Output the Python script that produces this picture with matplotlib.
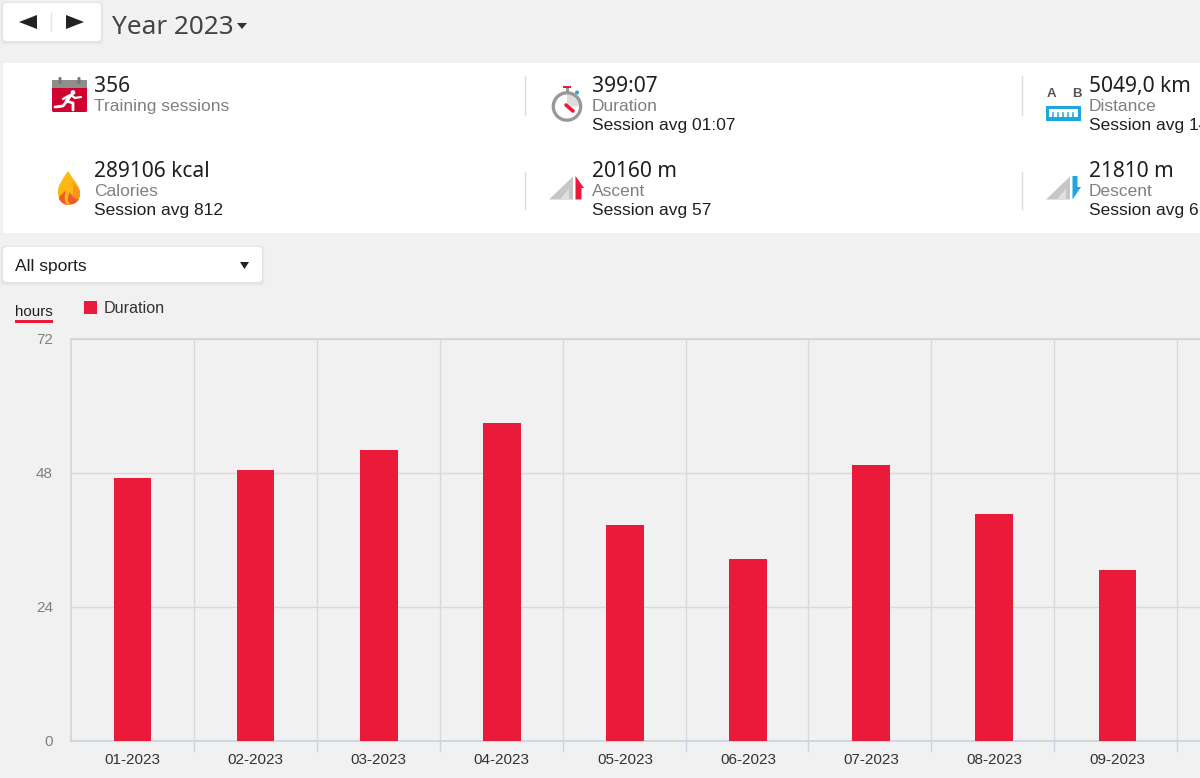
from matplotlib import pyplot as plt
from matplotlib.patches import FancyBboxPatch, Rectangle, Polygon, Circle, Wedge, PathPatch
from matplotlib.path import Path

# Monthly training hours
months = ["01-2023", "02-2023", "03-2023", "04-2023", "05-2023",
          "06-2023", "07-2023", "08-2023", "09-2023"]
hours = [47.1, 48.6, 52.1, 57.0, 38.7, 32.6, 49.4, 40.7, 30.6]
y_ticks = [0, 24, 48, 72]

# Summary panel: value, name, session average, x, y
summary_values = ["356", "399:07", "5049,0 km", "289106 kcal", "20160 m", "21810 m"]
summary_names = ["Training sessions", "Duration", "Distance", "Calories", "Ascent", "Descent"]
summary_avgs = ["", "Session avg 01:07", "Session avg 14", "Session avg 812", "Session avg 57", "Session avg 61"]
summary_x = [94, 592, 1089, 94, 592, 1089]
summary_y = [86, 86, 86, 171, 171, 171]

BG = "#f1f1f1"
RED = "#ea1a3a"
GREY_TEXT = "#808080"
DARK = "#1f1f1f"
BLUE = "#1ea7dc"
SANS = "Liberation Sans"
NUM = "Noto Sans"

fig = plt.figure(figsize=(12, 7.78), dpi=100, facecolor=BG)

# Page furniture is laid out in pixels on a full-figure axes
ui = fig.add_axes([0, 0, 1, 1], zorder=0)
ui.set_xlim(0, 1200)
ui.set_ylim(778, 0)
ui.axis("off")


def card(x, y, w, h):
    for grow, alpha in ((3, 0.012), (2, 0.018), (1, 0.025)):
        ui.add_patch(FancyBboxPatch((x - grow, y - grow + 1), w + 2 * grow, h + 2 * grow,
                                    boxstyle="round,pad=0,rounding_size=4",
                                    fc="black", ec="none", alpha=alpha))
    ui.add_patch(FancyBboxPatch((x, y), w, h, boxstyle="round,pad=0,rounding_size=4",
                                fc="white", ec="none"))


# Previous / next buttons
card(3, 3, 98, 38)
ui.add_patch(Polygon([[19, 22], [37, 15], [37, 29]], fc="#222222", ec="none"))
ui.add_patch(Polygon([[84, 22], [66, 15], [66, 29]], fc="#222222", ec="none"))
ui.plot([50.5, 50.5], [13, 31], color="#e4e4e4", lw=1)

ui.text(112, 27, "Year 2023", fontsize=18.8, family=NUM, color="#444444", va="center")
ui.add_patch(Polygon([[237, 23], [247, 23], [242, 29]], fc="#333333", ec="none"))

# Summary panel
ui.add_patch(Rectangle((3, 63), 1197, 170, fc="white", ec="none"))
for x in (524.5, 1021.5):
    ui.plot([x, x], [76, 115], color="#dddddd", lw=1)
    ui.plot([x, x], [172, 209], color="#dddddd", lw=1)

for i in range(6):
    x, y = summary_x[i], summary_y[i]
    ui.text(x, y, summary_values[i], fontsize=15.1, family=NUM, color=DARK, va="center")
    ui.text(x, y + 20, summary_names[i], fontsize=12.5, family=SANS, color=GREY_TEXT, va="center")
    if summary_avgs[i]:
        ui.text(x, y + 39, summary_avgs[i], fontsize=12.5, family=SANS, color=DARK, va="center")

# Calendar icon with runner
ui.add_patch(FancyBboxPatch((52, 80), 35, 32, boxstyle="round,pad=0,rounding_size=1.5", fc="#d0002f", ec="none"))
ui.add_patch(Rectangle((52, 80), 35, 8, fc="#8e8e8e", ec="none"))
for x in (60, 79):
    ui.add_patch(FancyBboxPatch((x - 1.5, 77), 3, 7, boxstyle="round,pad=0,rounding_size=1.2", fc="#777777", ec="none"))
ui.add_patch(Circle((73, 92.5), 2.4, fc="white", ec="none"))
ui.plot([55, 63, 67, 71, 66, 73, 73], [107, 106, 101, 95, 101, 103, 110], color="white", lw=2, solid_capstyle="round")
ui.plot([63, 68, 71, 75, 81], [99, 96, 95, 98, 97], color="white", lw=1.6, solid_capstyle="round")


def flame(points, colour):
    codes = [Path.MOVETO] + [Path.CURVE4] * (len(points) - 1)
    ui.add_patch(PathPatch(Path(points, codes), fc=colour, ec="none"))


# Calories flame
flame([(68, 171), (62, 180), (57, 186), (58, 194), (59, 201), (64, 205), (68, 205),
       (75, 205), (81, 200), (80, 192), (79, 184), (72, 178), (68, 171)], "#fdb813")
flame([(72, 181), (76, 186), (81, 189), (80, 195), (79, 201), (74, 205), (68, 205),
       (72, 200), (75, 190), (72, 181)], "#f7941d")
flame([(66, 190), (63, 194), (59, 195), (59, 199), (61, 203), (65, 205), (68, 205),
       (64, 203), (64, 197), (66, 190)], "#f15a24")
flame([(70, 192), (68, 196), (67, 199), (69, 203), (72, 205), (76, 204), (79, 199),
       (76, 200), (72, 197), (70, 192)], "#f15a24")

# Stopwatch
ui.add_patch(Rectangle((563, 85.5), 8, 2.5, fc=RED, ec="none"))
ui.add_patch(Rectangle((565.5, 88), 3, 4, fc="#999999", ec="none"))
ui.add_patch(Circle((577, 92.5), 2, fc=BLUE, ec="none"))
ui.add_patch(Wedge((567, 106.5), 13, -90, 0, fc="#dddddd", ec="none"))
ui.add_patch(Circle((567, 106.5), 13.7, fc="none", ec="#999999", lw=2.4))
ui.plot([566, 573], [105, 111], color=RED, lw=2.6, solid_capstyle="round")

# Distance ruler
ui.text(1051, 94, "A", fontsize=9.5, family=SANS, weight="bold", color="#555555", ha="center", va="center")
ui.text(1077, 94, "B", fontsize=9.5, family=SANS, weight="bold", color="#555555", ha="center", va="center")
ui.add_patch(Rectangle((1046, 106), 35, 15, fc=BLUE, ec="none"))
ui.add_patch(Rectangle((1049, 109), 29, 8, fc="white", ec="none"))
for x in (1053, 1058, 1063, 1068, 1073):
    ui.plot([x, x], [112.5, 118], color=BLUE, lw=1.1)


def slope(x0, y0):
    ui.add_patch(Polygon([[x0, y0], [x0 + 24, y0 - 23], [x0 + 24, y0]], fc="#c6c6c6", ec="none"))
    ui.add_patch(Polygon([[x0 + 11, y0], [x0 + 20, y0 - 11], [x0 + 20, y0]], fc="#e0e0e0", ec="none"))


# Ascent and descent icons
slope(549, 199.5)
ui.add_patch(Polygon([[575.5, 176], [584, 188], [581.5, 188], [581.5, 199.5], [575.5, 199.5]], fc=RED, ec="none"))
slope(1046, 199.5)
ui.add_patch(Polygon([[1072.5, 176], [1077.5, 176], [1077.5, 187], [1081, 187], [1072.5, 199.5]], fc=BLUE, ec="none"))

# Sport selector
card(3, 247, 259, 35)
ui.text(15, 266, "All sports", fontsize=12.5, family=SANS, color=DARK, va="center")
ui.add_patch(Polygon([[240, 262], [249, 262], [244.5, 269]], fc="#222222", ec="none"))

# Unit label and legend
ui.text(34, 312, "hours", fontsize=10.9, family=SANS, color=DARK, ha="center", va="center")
ui.add_patch(Rectangle((15, 320), 38, 3, fc=RED, ec="none"))
ui.add_patch(Rectangle((84, 301), 13, 13, fc=RED, ec="none"))
ui.text(104, 308, "Duration", fontsize=11.6, family=SANS, color="#333333", va="center")

# Bar chart
left, right, top, bottom = 71, 1200, 339, 741
ax = fig.add_axes([left / 1200, 1 - bottom / 778, (right - left) / 1200, (bottom - top) / 778], zorder=1)
ax.patch.set_alpha(0)
ax.bar(range(len(hours)), hours, width=0.305, color=RED, zorder=3)

ax.set_yticks(y_ticks)
ax.set_xticks(range(len(months)))
ax.set_xticklabels(months, fontsize=11, family=SANS, color="#333333")
for label in ax.get_yticklabels():
    label.set_fontsize(11)
    label.set_family(SANS)
    label.set_color(GREY_TEXT)
ax.tick_params(axis="x", length=0, pad=9)
ax.tick_params(axis="y", length=0, pad=13)

# Separators run on a slightly tighter pitch than the bars
sep_pitch = 122.9 / 123.1
ax.grid(axis="y", color="#d9d9d9", lw=1, zorder=1)
ax.set_xticks([(i + 1) * sep_pitch - 0.5 for i in range(len(months))], minor=True)
ax.tick_params(axis="x", which="minor", length=8, width=1, color="#c9d6e2", direction="out")
ax.grid(axis="x", which="minor", color="#d9d9d9", lw=1, zorder=1)
for side in ("top", "left"):
    ax.spines[side].set_color("#d6d6d6")
    ax.spines[side].set_linewidth(1.3)
ax.spines["right"].set_visible(False)
ax.spines["bottom"].set_color("#c9d6e2")
ax.spines["bottom"].set_linewidth(1.3)

# The axis runs on past the right edge of the figure
ax.set_xlim(-0.5, -0.5 + (right - left) / 123.1)
ax.set_ylim(0, 72)

plt.savefig("out.png", dpi=100, facecolor=BG)
